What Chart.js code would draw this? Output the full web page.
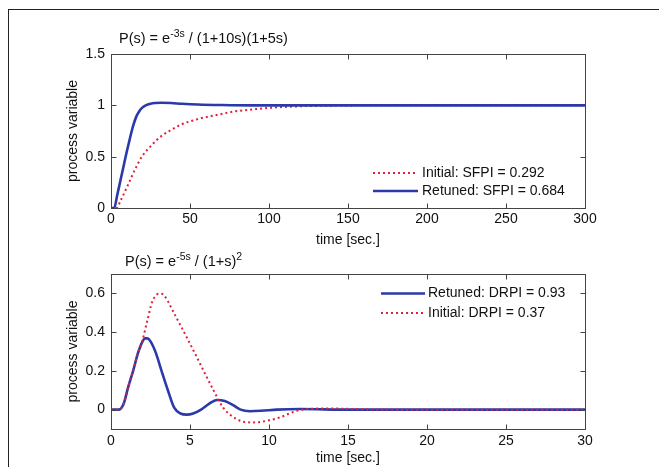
<!DOCTYPE html>
<html><head><meta charset="utf-8">
<script src="https://cdn.jsdelivr.net/npm/chart.js@4.4.0/dist/chart.umd.min.js"></script>
<style>
html,body{margin:0;padding:0;background:#fff;}
body{width:659px;height:467px;position:relative;overflow:hidden;}
#frame{position:absolute;left:8px;top:9px;width:700px;height:520px;border-left:1px solid #222;border-top:1px solid #222;}
#c1{position:absolute;left:0;top:0;}
#c2{position:absolute;left:0;top:250px;}
</style></head><body>
<div id="frame"></div>
<canvas id="c1" width="659" height="250"></canvas>
<canvas id="c2" width="659" height="217"></canvas>
<script>
// ---------- Top panel: set-point step response ----------
const stepTitle = [['P(s) = e', 0], ['-3s', 1], [' / (1+10s)(1+5s)', 0]];
const stepXTicks = [0, 50, 100, 150, 200, 250, 300];
const stepYTicks = [0, 0.5, 1, 1.5];
const stepRetunedLabel = 'Retuned: SFPI = 0.684';
const stepRetunedT = [0, 2, 4, 6, 8, 10, 12, 14, 16, 18, 20, 22, 25, 28, 32, 38, 45, 55, 70, 90, 150, 200, 300];
const stepRetunedY = [0, 0, 0.13, 0.27, 0.41, 0.55, 0.68, 0.8, 0.89, 0.945, 0.98, 1.0, 1.015, 1.022, 1.025, 1.022, 1.015, 1.008, 1.003, 1.0, 1.0, 1.0, 1.0];
const stepInitialLabel = 'Initial: SFPI = 0.292';
const stepInitialT = [0, 3.5, 6, 10, 16, 20, 25, 31, 38, 44, 56, 65, 78, 90, 100, 118, 140, 160, 200, 300];
const stepInitialY = [0, 0, 0.07, 0.2, 0.4, 0.51, 0.6, 0.69, 0.76, 0.81, 0.87, 0.9, 0.94, 0.96, 0.975, 0.99, 0.997, 1.0, 1.0, 1.0];

// ---------- Bottom panel: disturbance response ----------
const distTitle = [['P(s) = e', 0], ['-5s', 1], [' / (1+s)', 0], ['2', 1]];
const distXTicks = [0, 5, 10, 15, 20, 25, 30];
const distYTicks = [0, 0.2, 0.4, 0.6];
const distRetunedLabel = 'Retuned: DRPI = 0.93';
const distRetunedT = [0, 0.5, 0.8, 1.1, 1.4, 1.7, 1.85, 2.0, 2.15, 2.3, 2.45, 2.65, 2.85, 3.2, 3.6, 4.0, 4.4, 4.8, 5.2, 5.7, 6.2, 6.7, 7.2, 7.7, 8.2, 8.8, 9.5, 10.5, 12, 15, 20, 30];
const distRetunedY = [0, 0, 0.03, 0.12, 0.2, 0.29, 0.325, 0.352, 0.368, 0.368, 0.358, 0.33, 0.29, 0.2, 0.1, 0.01, -0.02, -0.026, -0.02, 0.0, 0.03, 0.05, 0.045, 0.025, 0.0, -0.008, -0.006, 0.0, 0.003, 0, 0, 0];
const distInitialLabel = 'Initial: DRPI = 0.37';
const distInitialT = [0, 0.5, 0.8, 1.1, 1.4, 1.7, 2.0, 2.3, 2.6, 2.8, 3.0, 3.2, 3.4, 3.6, 3.8, 4.2, 4.7, 5.2, 5.6, 6.0, 6.5, 7.1, 7.6, 8.2, 8.8, 9.3, 10.0, 10.7, 11.3, 11.8, 12.5, 13.5, 14.5, 16, 18, 20, 30];
const distInitialY = [0, 0, 0.03, 0.12, 0.2, 0.29, 0.36, 0.46, 0.555, 0.585, 0.598, 0.598, 0.585, 0.56, 0.528, 0.465, 0.388, 0.308, 0.243, 0.178, 0.098, 0.01, -0.03, -0.058, -0.066, -0.065, -0.055, -0.04, -0.02, -0.005, 0.003, 0.006, 0.005, 0.002, 0, 0, 0];

const xTitleText = 'time [sec.]';
const yTitleText = 'process variable';

const FONT = '"Liberation Sans", Arial, Helvetica, sans-serif';
const BLUE = '#2b3aa8';
const RED = '#e0203c';
const pts = (t, y) => t.map((v, i) => ({x: v, y: y[i]}));

const matlabPlugin = {
  id: 'matlab',
  afterDatasetsDraw(chart, args, opts) {
    const {ctx, chartArea: a, scales: {x, y}} = chart;
    ctx.save();
    ctx.strokeStyle = '#444';
    ctx.lineWidth = 1;
    const L = Math.round(a.left) + 0.5, T = Math.round(a.top) + 0.5;
    const R = Math.round(a.right) + 0.5, B = Math.round(a.bottom) + 0.5;
    ctx.strokeRect(L, T, R - L, B - T);
    const len = 5;
    ctx.beginPath();
    x.ticks.forEach(t => {
      const px = Math.round(x.getPixelForValue(t.value)) + 0.5;
      ctx.moveTo(px, B); ctx.lineTo(px, B - len);
      ctx.moveTo(px, T); ctx.lineTo(px, T + len);
    });
    y.ticks.forEach(t => {
      const py = Math.round(y.getPixelForValue(t.value)) + 0.5;
      ctx.moveTo(L, py); ctx.lineTo(L + len, py);
      ctx.moveTo(R, py); ctx.lineTo(R - len, py);
    });
    ctx.stroke();
    // legend
    const lg = opts.legend;
    ctx.font = '14px ' + FONT;
    ctx.textBaseline = 'middle';
    ctx.textAlign = 'left';
    lg.rows.forEach(r => {
      const ds = chart.data.datasets[r.index];
      ctx.strokeStyle = ds.borderColor;
      ctx.lineWidth = ds.borderWidth;
      ctx.setLineDash(ds.borderDash || []);
      ctx.beginPath();
      ctx.moveTo(lg.x1, r.y); ctx.lineTo(lg.x2, r.y);
      ctx.stroke();
      ctx.setLineDash([]);
      ctx.fillStyle = '#111';
      ctx.fillText(ds.label, lg.tx, r.y);
    });
    // title with superscripts
    let cx = opts.title.x;
    ctx.fillStyle = '#111';
    ctx.textBaseline = 'alphabetic';
    opts.title.parts.forEach(([txt, sup]) => {
      ctx.font = (sup ? '10.5px ' : '14.5px ') + FONT;
      ctx.fillText(txt, cx, opts.title.y + (sup ? -6 : 0));
      cx += ctx.measureText(txt).width;
    });
    ctx.restore();
  }
};

function makeChart(id, cfg) {
  return new Chart(document.getElementById(id), {
    type: 'line',
    data: {datasets: cfg.datasets},
    plugins: [matlabPlugin],
    options: {
      responsive: false,
      animation: false,
      devicePixelRatio: 1,
      layout: {padding: {left: 0, right: 74, top: cfg.padTop, bottom: 0}},
      elements: {point: {radius: 0}, line: {cubicInterpolationMode: 'monotone'}},
      plugins: {
        legend: {display: false},
        tooltip: {enabled: false},
        matlab: {legend: cfg.legend, title: cfg.title}
      },
      scales: {
        x: {
          type: 'linear', min: cfg.xMin, max: cfg.xMax,
          afterBuildTicks: s => { s.ticks = cfg.xTicks.map(v => ({value: v})); },
          afterFit: s => { s.height = cfg.xAxisH; },
          grid: {display: false, drawTicks: false},
          border: {display: false},
          ticks: {color: '#111', font: {family: FONT, size: 14}, padding: cfg.xPad, maxRotation: 0, callback: v => String(v)},
          title: {display: true, text: xTitleText, color: '#111', font: {family: FONT, size: 14}, padding: {top: 0, bottom: cfg.xTitlePad}}
        },
        y: {
          type: 'linear', min: cfg.yMin, max: cfg.yMax,
          afterBuildTicks: s => { s.ticks = cfg.yTicks.map(v => ({value: v})); },
          afterFit: s => { s.width = 111; },
          grid: {display: false, drawTicks: false},
          border: {display: false},
          ticks: {color: '#111', font: {family: FONT, size: 14}, padding: 6, callback: v => String(v)},
          title: {display: true, text: yTitleText, color: '#111', font: {family: FONT, size: 14}, padding: {top: 65, bottom: 0}}
        }
      }
    }
  });
}

makeChart('c1', {
  datasets: [
    {label: stepRetunedLabel, data: pts(stepRetunedT, stepRetunedY), borderColor: BLUE, borderWidth: 2.6, fill: false},
    {label: stepInitialLabel, data: pts(stepInitialT, stepInitialY), borderColor: RED, borderWidth: 2, borderDash: [2, 3], fill: false}
  ],
  xMin: 0, xMax: 300, yMin: 0, yMax: 1.5,
  xTicks: stepXTicks, yTicks: stepYTicks,
  padTop: 54, xAxisH: 42, xPad: 3, xTitlePad: 1,
  legend: {x1: 373, x2: 418, tx: 422, rows: [{index: 1, y: 173}, {index: 0, y: 191}]},
  title: {x: 119, y: 43, parts: stepTitle}
});

makeChart('c2', {
  datasets: [
    {label: distInitialLabel, data: pts(distInitialT, distInitialY), borderColor: RED, borderWidth: 2, borderDash: [2, 3], fill: false},
    {label: distRetunedLabel, data: pts(distRetunedT, distRetunedY), borderColor: BLUE, borderWidth: 2.6, fill: false}
  ],
  xMin: 0, xMax: 30, yMin: -0.1, yMax: 0.7,
  xTicks: distXTicks, yTicks: distYTicks,
  padTop: 24, xAxisH: 38, xPad: 4, xTitlePad: 0,
  legend: {x1: 381, x2: 425, tx: 428, rows: [{index: 1, y: 43.5}, {index: 0, y: 63}]},
  title: {x: 125, y: 15.5, parts: distTitle}
});
</script>
</body></html>
